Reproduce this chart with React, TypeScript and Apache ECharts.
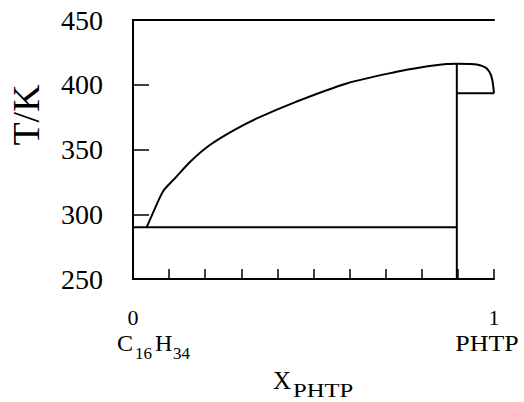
import React, { useEffect, useRef } from "react";
import * as echarts from "echarts";

const yMin = 250;
const yMax = 450;
const yStep = 50;
const xMin = 0;
const xMax = 1;
const xStep = 0.1;
const xTickLabels: Record<string, string> = { "0": "0", "1": "1" };

const liquidusLeft: [number, number][] = [
  [0.038, 290], [0.06, 304], [0.084, 318], [0.112, 326.5], [0.16, 341],
  [0.213, 353.5], [0.28, 365], [0.343, 374], [0.453, 387], [0.592, 401],
  [0.73, 410], [0.8, 413.5], [0.869, 416], [0.897, 416.2],
];
const liquidusRight: [number, number][] = [
  [0.897, 416.2], [0.93, 416], [0.952, 415.6], [0.97, 414.2], [0.98, 412.5],
  [0.99, 408.5], [0.995, 404], [0.998, 398.5], [1.0, 393.4],
];
const eutecticLine: [number, number][] = [[0, 290], [0.897, 290]];
const compoundLine: [number, number][] = [[0.897, 250], [0.897, 416.2]];
const transitionLine: [number, number][] = [[0.897, 393.4], [1, 393.4]];

const FONT = "Liberation Serif";

export default function App() {
  const ref = useRef<HTMLDivElement>(null);
  useEffect(() => {
    if (!ref.current) return;
    const chart = echarts.init(ref.current, undefined, { renderer: "svg" });
    const lineSeries = (data: [number, number][], smooth: number | boolean) => ({
      type: "line",
      data,
      smooth,
      showSymbol: false,
      symbol: "none",
      lineStyle: { color: "#000", width: 2 },
      silent: true,
    });
    const txt = (text: string, x: number, y: number, size: number, align = "left", extra: any = {}) => ({
      type: "text",
      x,
      y,
      ...extra,
      style: {
        text,
        fill: "#000",
        fontFamily: FONT,
        fontSize: size,
        lineHeight: Math.round(size * 0.75),
        align,
        verticalAlign: "middle",
      },
    });
    chart.setOption({
      animation: false,
      backgroundColor: "#fff",
      textStyle: { fontFamily: FONT },
      grid: { left: 133, right: 30, top: 20, bottom: 123 },
      xAxis: [
        {
          type: "value",
          min: xMin,
          max: xMax,
          interval: xStep,
          position: "bottom",
          axisLine: { show: true, lineStyle: { color: "#000", width: 2 } },
          axisTick: { show: true, inside: true, length: 10, lineStyle: { color: "#000", width: 1.5 } },
          splitLine: { show: false },
          axisLabel: {
            show: true,
            margin: 29,
            fontFamily: FONT,
            fontSize: 22,
            color: "#000",
            showMinLabel: true,
            showMaxLabel: true,
            formatter: (v: number) => {
              const k = String(Math.round(v * 10) / 10);
              const s = xTickLabels[k];
              return s ? `{t|${s}}` : "";
            },
            rich: { t: { fontFamily: FONT, fontSize: 22, lineHeight: 18, color: "#000" } },
          },
        },
        {
          type: "value",
          min: xMin,
          max: xMax,
          position: "top",
          axisLine: { show: true, lineStyle: { color: "#000", width: 2 } },
          axisTick: { show: false },
          axisLabel: { show: false },
          splitLine: { show: false },
        },
      ],
      yAxis: [
        {
          type: "value",
          min: yMin,
          max: yMax,
          interval: yStep,
          position: "left",
          axisLine: { show: true, lineStyle: { color: "#000", width: 2 } },
          axisTick: { show: true, inside: true, length: 16, lineStyle: { color: "#000", width: 1.5 } },
          splitLine: { show: false },
          axisLabel: {
            margin: 30,
            fontFamily: FONT,
            fontSize: 28,
            color: "#000",
            formatter: (v: number) => `{t|${v}}`,
            rich: { t: { fontFamily: FONT, fontSize: 28, color: "#000" } },
          },
        },
        {
          type: "value",
          min: yMin,
          max: yMax,
          position: "right",
          axisLine: { show: true, lineStyle: { color: "#000", width: 2 } },
          axisTick: { show: false },
          axisLabel: { show: false },
          splitLine: { show: false },
        },
      ],
      series: [
        lineSeries(liquidusLeft, 0.3),
        lineSeries(liquidusRight, 0.4),
        lineSeries(eutecticLine, false),
        lineSeries(compoundLine, false),
        lineSeries(transitionLine, false),
      ],
      graphic: [
        txt("T/K", 26, 115, 38, "center", { rotation: Math.PI / 2 }),
        txt("C", 117, 343, 24),
        txt("16", 135, 353, 17),
        txt("H", 155, 343, 24),
        txt("34", 173, 353, 17),
        txt("PHTP", 487, 343, 24, "center", { scaleX: 1.08, originX: 0 }),
        txt("X", 273, 380, 25),
        txt("PHTP", 293, 391, 19, "left", { scaleX: 1.3 }),
      ],
    });
    return () => chart.dispose();
  }, []);
  return (
    <div
      ref={ref}
      style={{ position: "fixed", left: 0, top: 0, width: 524, height: 402, background: "#fff" }}
    />
  );
}
